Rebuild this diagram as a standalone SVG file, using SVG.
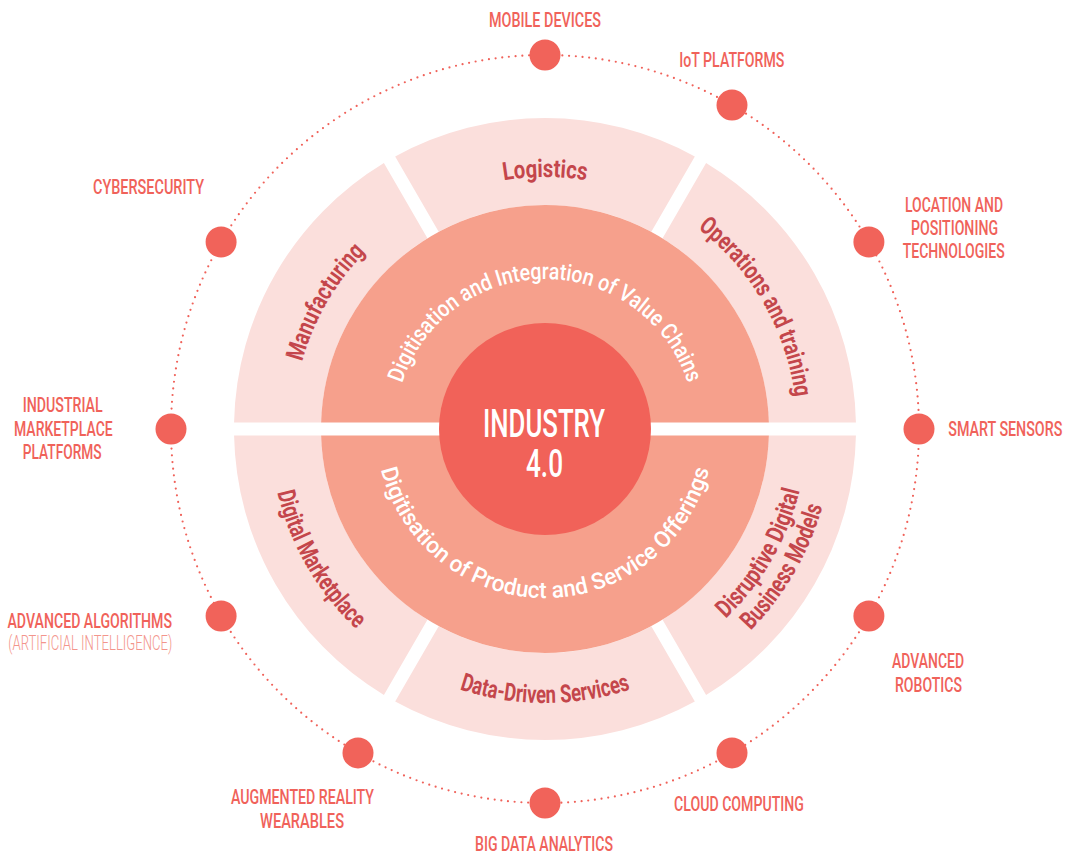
<svg xmlns="http://www.w3.org/2000/svg" width="1074" height="854" viewBox="0 0 1074 854">
<style>
.seg{fill:#fbdfdc}
.mid{fill:#f6a08c}
.core{fill:#f16259}
.rt{font-family:Roboto,"Liberation Sans",sans-serif;font-weight:700;font-size:25px;fill:#c4464b}
.mt{font-family:Roboto,"Liberation Sans",sans-serif;font-weight:500;font-size:23px;fill:#ffffff}
.ct{font-family:Roboto,"Liberation Sans",sans-serif;font-weight:500;font-size:38px;fill:#ffffff}
.lb{font-family:Roboto,"Liberation Sans",sans-serif;font-weight:500;font-size:21px;fill:#f0625a}
.lt{font-family:Roboto,"Liberation Sans",sans-serif;font-weight:300;font-size:21px;fill:#f3958c}
.dot{fill:#f1635a}
.ring{fill:none;stroke:#f0625a;stroke-width:2.2;stroke-linecap:round;stroke-dasharray:0 6.714}
</style>
<defs>
<path id="pLog" d="M 293.96 407.04 A 252 252 0 0 1 796.04 407.04"/>
<path id="pMan" d="M 400.46 635.43 A 252 252 0 0 1 651.50 200.61"/>
<path id="pOps" d="M 438.50 200.61 A 252 252 0 0 1 689.54 635.43"/>
<path id="pDds" d="M 272.04 452.88 A 274 274 0 0 0 817.96 452.88"/>
<path id="pDmk" d="M 387.27 203.73 A 275 275 0 0 0 661.22 678.24"/>
<path id="pDis1" d="M 434.27 666.45 A 262 262 0 0 0 695.28 214.38"/>
<path id="pDis2" d="M 423.29 690.02 A 288 288 0 0 0 710.19 193.08"/>
<path id="pTop" d="M 395.57 415.93 A 150 150 0 0 1 694.43 415.93"/>
<path id="pBot" d="M 376.64 443.73 A 169 169 0 0 0 713.36 443.73"/>
</defs>

<g id="connectors">
<circle class="ring" cx="545" cy="429" r="374"/>
</g>

<g id="seg-manufacturing">
<path class="seg" d="M 383.905 162.975 A 311 311 0 0 0 234.068 422.5 L 321.094 422.5 A 224 224 0 0 1 427.418 238.341 Z"/>
<text class="rt"><textPath href="#pMan" startOffset="50%" text-anchor="middle" textLength="128" lengthAdjust="spacingAndGlyphs">Manufacturing</textPath></text>
</g>
<g id="seg-logistics">
<path class="seg" d="M 694.837 156.475 A 311 311 0 0 0 395.163 156.475 L 438.676 231.841 A 224 224 0 0 1 651.324 231.841 Z"/>
<text class="rt"><textPath href="#pLog" startOffset="50%" text-anchor="middle" textLength="83" lengthAdjust="spacingAndGlyphs">Logistics</textPath></text>
</g>
<g id="seg-operations">
<path class="seg" d="M 855.932 422.5 A 311 311 0 0 0 706.095 162.975 L 662.582 238.341 A 224 224 0 0 1 768.906 422.5 Z"/>
<text class="rt"><textPath href="#pOps" startOffset="50%" text-anchor="middle" textLength="200" lengthAdjust="spacingAndGlyphs">Operations and training</textPath></text>
</g>
<g id="seg-digital-marketplace">
<path class="seg" d="M 234.068 435.5 A 311 311 0 0 0 383.905 695.025 L 427.418 619.659 A 224 224 0 0 1 321.094 435.5 Z"/>
<text class="rt"><textPath href="#pDmk" startOffset="50%" text-anchor="middle" textLength="160" lengthAdjust="spacingAndGlyphs">Digital Marketplace</textPath></text>
</g>
<g id="seg-data-driven">
<path class="seg" d="M 395.163 701.525 A 311 311 0 0 0 694.837 701.525 L 651.324 626.159 A 224 224 0 0 1 438.676 626.159 Z"/>
<text class="rt"><textPath href="#pDds" startOffset="50%" text-anchor="middle" textLength="174" lengthAdjust="spacingAndGlyphs">Data-Driven Services</textPath></text>
</g>
<g id="seg-disruptive">
<path class="seg" d="M 706.095 695.025 A 311 311 0 0 0 855.932 435.5 L 768.906 435.5 A 224 224 0 0 1 662.582 619.659 Z"/>
<text class="rt"><textPath href="#pDis1" startOffset="50%" text-anchor="middle" textLength="150" lengthAdjust="spacingAndGlyphs">Disruptive Digital</textPath></text>
<text class="rt"><textPath href="#pDis2" startOffset="50%" text-anchor="middle" textLength="145" lengthAdjust="spacingAndGlyphs">Business Models</textPath></text>
</g>

<g id="value-chains">
<path class="mid" d="M 321.094 422.5 A 224 224 0 0 1 768.906 422.5 Z"/>
<text class="mt"><textPath href="#pTop" startOffset="50%" text-anchor="middle" textLength="378" lengthAdjust="spacingAndGlyphs">Digitisation and Integration of Value Chains</textPath></text>
</g>
<g id="product-service">
<path class="mid" d="M 321.094 435.5 A 224 224 0 0 0 768.906 435.5 Z"/>
<text class="mt"><textPath href="#pBot" startOffset="50%" text-anchor="middle" textLength="449" lengthAdjust="spacingAndGlyphs">Digitisation of Product and Service Offerings</textPath></text>
</g>

<g id="industry40">
<circle class="core" cx="545" cy="429" r="106"/>
<text class="ct" x="544" y="436.7" text-anchor="middle" textLength="122" lengthAdjust="spacingAndGlyphs">INDUSTRY</text>
<text class="ct" x="544.5" y="476.7" text-anchor="middle" textLength="37" lengthAdjust="spacingAndGlyphs">4.0</text>
</g>

<g id="mobile-devices">
<circle class="dot" cx="545" cy="55" r="15.5"/>
<text class="lb" x="489" y="26.7" textLength="112" lengthAdjust="spacingAndGlyphs">MOBILE DEVICES</text>
</g>
<g id="iot-platforms">
<circle class="dot" cx="732" cy="105.1" r="15.5"/>
<text class="lb" x="679.3" y="67.3" textLength="105" lengthAdjust="spacingAndGlyphs">IoT PLATFORMS</text>
</g>
<g id="location">
<circle class="dot" cx="868.9" cy="242" r="15.5"/>
<text class="lb" x="905" y="211.7" textLength="98" lengthAdjust="spacingAndGlyphs">LOCATION AND</text>
<text class="lb" x="911" y="235" textLength="87" lengthAdjust="spacingAndGlyphs">POSITIONING</text>
<text class="lb" x="902.7" y="258.3" textLength="102" lengthAdjust="spacingAndGlyphs">TECHNOLOGIES</text>
</g>
<g id="smart-sensors">
<circle class="dot" cx="919" cy="429" r="15.5"/>
<text class="lb" x="948.3" y="436" textLength="114" lengthAdjust="spacingAndGlyphs">SMART SENSORS</text>
</g>
<g id="advanced-robotics">
<circle class="dot" cx="868.9" cy="616" r="15.5"/>
<text class="lb" x="892" y="668" textLength="72" lengthAdjust="spacingAndGlyphs">ADVANCED</text>
<text class="lb" x="895" y="692" textLength="67" lengthAdjust="spacingAndGlyphs">ROBOTICS</text>
</g>
<g id="cloud-computing">
<circle class="dot" cx="732" cy="752.9" r="15.5"/>
<text class="lb" x="674" y="811" textLength="130" lengthAdjust="spacingAndGlyphs">CLOUD COMPUTING</text>
</g>
<g id="big-data">
<circle class="dot" cx="545" cy="803" r="15.5"/>
<text class="lb" x="475" y="851" textLength="138" lengthAdjust="spacingAndGlyphs">BIG DATA ANALYTICS</text>
</g>
<g id="augmented-reality">
<circle class="dot" cx="358" cy="752.9" r="15.5"/>
<text class="lb" x="231" y="804" textLength="143" lengthAdjust="spacingAndGlyphs">AUGMENTED REALITY</text>
<text class="lb" x="260" y="828" textLength="84" lengthAdjust="spacingAndGlyphs">WEARABLES</text>
</g>
<g id="advanced-algorithms">
<circle class="dot" cx="221.1" cy="616" r="15.5"/>
<text class="lb" x="7.5" y="628.3" textLength="164.5" lengthAdjust="spacingAndGlyphs">ADVANCED ALGORITHMS</text>
<text class="lt" x="8.3" y="650" textLength="164" lengthAdjust="spacingAndGlyphs">(ARTIFICIAL INTELLIGENCE)</text>
</g>
<g id="industrial-marketplace">
<circle class="dot" cx="171" cy="429" r="15.5"/>
<text class="lb" x="22.7" y="412.3" textLength="80" lengthAdjust="spacingAndGlyphs">INDUSTRIAL</text>
<text class="lb" x="14" y="436" textLength="98.7" lengthAdjust="spacingAndGlyphs">MARKETPLACE</text>
<text class="lb" x="22.7" y="459.3" textLength="79" lengthAdjust="spacingAndGlyphs">PLATFORMS</text>
</g>
<g id="cybersecurity">
<circle class="dot" cx="221.1" cy="242" r="15.5"/>
<text class="lb" x="93" y="194" textLength="111" lengthAdjust="spacingAndGlyphs">CYBERSECURITY</text>
</g>
</svg>
